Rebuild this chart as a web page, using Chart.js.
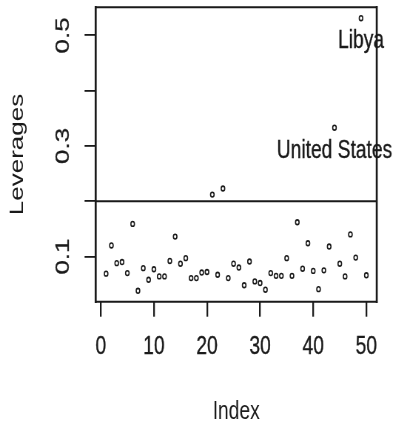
<!DOCTYPE html>
<html>
<head>
<meta charset="utf-8">
<script src="https://cdn.jsdelivr.net/npm/chart.js@4.4.0/dist/chart.umd.min.js"></script>
<style>
  html, body { margin: 0; padding: 0; background: #fff; overflow: hidden; }
  #wrap { width: 393px; height: 422px; overflow: hidden; }
  /* the plot is drawn wide and squeezed horizontally, like a stretched R png */
  #chart { transform: scaleX(0.74); transform-origin: 0 0; }
</style>
</head>
<body>
<div id="wrap"><canvas id="chart" width="531" height="422"></canvas></div>
<script>
// hat values for each observation, in index order
const leverages = [
  0.069, 0.120, 0.088, 0.090, 0.070, 0.159, 0.038, 0.079, 0.058, 0.077,
  0.064, 0.064, 0.092, 0.136, 0.087, 0.097, 0.061, 0.061, 0.071, 0.072,
  0.212, 0.067, 0.223, 0.061, 0.087, 0.080, 0.048, 0.091, 0.055, 0.052,
  0.040, 0.070, 0.065, 0.065, 0.097, 0.065, 0.162, 0.078, 0.124, 0.074,
  0.041, 0.075, 0.118, 0.333, 0.087, 0.064, 0.140, 0.098, 0.531, 0.066
];
const cutoff = 0.2;
const flaggedIdx = [49, 44];
const flaggedNames = ['Libya', 'United States'];
const xTicks = [0, 10, 20, 30, 40, 50];
const yTicks = [0.1, 0.2, 0.3, 0.4, 0.5];
const yTickLabels = ['0.1', '', '0.3', '', '0.5'];

const INK = '#1a1a1a';
const FONT = { family: "'Liberation Sans', Arial, sans-serif", size: 26 };
const STROKE = 0.35; // a touch of weight on the text

// R-style 4% range extension
const extend = (lo, hi) => [lo - 0.04 * (hi - lo), hi + 0.04 * (hi - lo)];
const [xMin, xMax] = extend(1, leverages.length);
const [yMin, yMax] = extend(Math.min(...leverages), Math.max(...leverages));

const points = leverages.map((v, i) => ({ x: i + 1, y: v }));

const boxPlugin = {
  id: 'rbox',
  afterDatasetsDraw(chart) {
    const { ctx, chartArea: a } = chart;
    ctx.save();
    ctx.strokeStyle = INK;
    ctx.lineCap = 'square';
    ctx.lineWidth = 2;
    ctx.beginPath();
    ctx.moveTo(a.left, a.top); ctx.lineTo(a.right, a.top);
    ctx.moveTo(a.left, a.bottom); ctx.lineTo(a.right, a.bottom);
    ctx.stroke();
    ctx.lineWidth = 2.7;
    ctx.beginPath();
    ctx.moveTo(a.left, a.top); ctx.lineTo(a.left, a.bottom);
    ctx.moveTo(a.right, a.top); ctx.lineTo(a.right, a.bottom);
    ctx.stroke();
    ctx.restore();
  }
};

// names of the high-leverage points, written just under them
const namePlugin = {
  id: 'names',
  afterDraw(chart) {
    const { ctx, scales } = chart;
    ctx.save();
    ctx.fillStyle = INK;
    ctx.strokeStyle = INK;
    ctx.lineWidth = STROKE;
    ctx.font = `${FONT.size}px ${FONT.family}`;
    ctx.textAlign = 'center';
    ctx.textBaseline = 'middle';
    flaggedIdx.forEach((idx, k) => {
      const px = scales.x.getPixelForValue(idx);
      const py = scales.y.getPixelForValue(leverages[idx - 1]) + 23;
      ctx.fillText(flaggedNames[k], px, py);
      ctx.strokeText(flaggedNames[k], px, py);
    });
    ctx.restore();
  }
};

new Chart(document.getElementById('chart'), {
  type: 'scatter',
  data: {
    datasets: [
      {
        data: points,
        pointStyle: 'circle',
        pointRadius: 2.4,
        borderWidth: 1.6,
        borderColor: INK,
        backgroundColor: 'rgba(0,0,0,0)'
      },
      {
        type: 'line',
        data: [{ x: xMin, y: cutoff }, { x: xMax, y: cutoff }],
        borderColor: INK,
        borderWidth: 2,
        pointRadius: 0
      }
    ]
  },
  options: {
    responsive: false,
    animation: false,
    layout: { padding: { top: 7.3, right: 21.9, left: 0, bottom: 0 } },
    plugins: { legend: { display: false }, tooltip: { enabled: false } },
    scales: {
      x: {
        type: 'linear',
        position: 'bottom',
        min: xMin,
        max: xMax,
        afterBuildTicks: s => { s.ticks = xTicks.map(v => ({ value: v })); },
        afterFit: s => { s.height = 120.3; s.paddingLeft = 0; s.paddingRight = 0; },
        border: { display: false },
        grid: { drawOnChartArea: false, drawTicks: true, tickLength: 15, color: INK, lineWidth: 2.3 },
        ticks: {
          font: FONT, color: INK, padding: 14.4, autoSkip: false, minRotation: 0, maxRotation: 0,
          textStrokeColor: INK, textStrokeWidth: STROKE
        },
        title: { display: true, text: 'Index', color: INK, font: { ...FONT, lineHeight: 0.79 }, padding: 0 }
      },
      y: {
        type: 'linear',
        position: 'left',
        min: yMin,
        max: yMax,
        afterBuildTicks: s => { s.ticks = yTicks.map(v => ({ value: v })); },
        afterFit: s => { s.width = 129.3; s.paddingTop = 0; s.paddingBottom = 0; },
        border: { display: false },
        grid: { drawOnChartArea: false, drawTicks: true, tickLength: 15, color: INK, lineWidth: 1.8 },
        ticks: {
          font: FONT, color: INK, padding: 10.7, autoSkip: false,
          minRotation: 90, maxRotation: 90, crossAlign: 'center',
          textStrokeColor: INK, textStrokeWidth: STROKE,
          callback: (v, i) => yTickLabels[i]
        },
        title: { display: true, text: 'Leverages', color: INK, font: FONT, padding: { top: 8.7, bottom: 0 } }
      }
    }
  },
  plugins: [boxPlugin, namePlugin]
});
</script>
</body>
</html>
